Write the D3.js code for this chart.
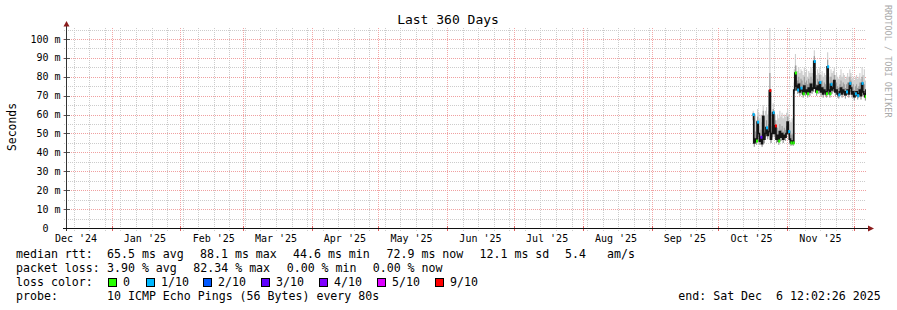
<!DOCTYPE html>
<html>
<head>
<meta charset="utf-8">
<script src="https://cdn.jsdelivr.net/npm/d3@7"></script>
<style>
	body { margin: 0; background: #fff; }
	svg { display: block; }
	text { font-family: "DejaVu Sans Mono", monospace; white-space: pre; fill: #000; }
</style>
</head>
<body>
<svg id="chart"></svg>
<script>
// time range of the graph (360 days ending at the "end:" stamp)
const END_TIME = Date.UTC(2025, 11, 6, 12, 2, 26);
const START_TIME = END_TIME - 360 * 864e5;
const SERIES_START = Date.UTC(2025, 9, 16, 12, 0, 0);
const STEP = 12 * 3600e3;

const monthLabels = ["Dec '24", "Jan '25", "Feb '25", "Mar '25", "Apr '25", "May '25",
	"Jun '25", "Jul '25", "Aug '25", "Sep '25", "Oct '25", "Nov '25"];
const yTicks = [0, 10, 20, 30, 40, 50, 60, 70, 80, 90, 100];
const yTickLabels = ["0\u00a0\u00a0", "10 m", "20 m", "30 m", "40 m", "50 m", "60 m", "70 m", "80 m", "90 m", "100 m"];

// median rtt per 12h step (ms)
const medianMs = [
	60, 45, 47, 46, 56, 50, 46, 48, 44.6, 59, 47, 50, 53, 49, 51, 72.7, 47, 50, 61, 50,
	54, 47, 49, 46, 51, 48, 50, 47, 49, 48, 50, 56, 51, 47, 45, 46, 45,
	73, 82, 75, 73, 76, 72, 74, 73, 71, 75, 72, 73, 71, 74, 72, 76, 73, 74, 88.1, 74,
	72, 75, 73, 77, 72, 74, 71, 73, 72, 71, 85.3, 73, 71, 76, 73, 74, 78, 72, 73, 71,
	70.4, 72, 74, 71, 73, 72, 70.5, 72, 73, 71, 76.5, 74, 71, 72, 69.5, 71, 72, 70, 71,
	73, 70, 76.5, 72, 71, 69.5, 72.9
];
// lowest ping of each step (ms)
const pingMinMs = [
	57, 43, 45, 44, 53, 48, 44, 46, 43, 56, 45, 48, 51, 47, 49, 70, 45, 48, 58, 48,
	52, 45, 47, 44, 49, 46, 48, 45, 47, 46, 48, 53, 49, 45, 43.5, 44, 43.5,
	71, 80, 73, 71, 74, 70, 72, 71, 69, 73, 70, 71, 69, 72, 70, 74, 71, 72, 85, 72,
	70, 73, 71, 75, 70, 72, 69, 71, 70, 69, 83, 71, 69, 74, 71, 72, 76, 70, 71, 69,
	68.5, 70, 72, 69, 71, 70, 68.5, 70, 71, 69, 74.5, 72, 69, 70, 67.5, 69, 70, 68, 69,
	71, 68, 74.5, 70, 69, 67.5, 71
];
// top of the dense part of the smoke (ms)
const smokeMidMs = [
	61, 48, 51, 49, 59, 54, 50, 52, 48, 62, 51, 54, 57, 53, 55, 82, 51, 54, 63, 54,
	57, 50, 53, 50, 55, 52, 54, 51, 53, 52, 54, 59, 55, 51, 49, 50, 49,
	77, 86, 80, 78, 80, 77, 79, 78, 76, 80, 77, 78, 76, 79, 77, 80, 77, 79, 91, 78,
	76, 79, 77, 81, 76, 78, 75, 77, 76, 75, 89, 77, 75, 80, 77, 78, 81, 76, 77, 75,
	74, 76, 78, 75, 77, 76, 74, 76, 77, 75, 80, 78, 75, 76, 73, 75, 76, 74, 75,
	77, 74, 80, 76, 76, 73, 76
];
// highest ping of each step (ms)
const pingMaxMs = [
	62, 58, 60, 57, 63, 61, 58, 60, 56, 65, 59, 62, 64, 60, 62, 106, 58, 61, 66, 61,
	60, 57, 60, 58, 62, 59, 61, 58, 60, 59, 61, 63, 60, 57, 56, 58, 57,
	84, 92, 86, 83, 85, 82, 84, 83, 81, 85, 82, 84, 80, 83, 82, 85, 82, 84, 94, 83,
	81, 84, 82, 85, 81, 83, 80, 82, 81, 80, 93, 82, 80, 84, 82, 83, 85, 81, 82, 80,
	79, 81, 84, 80, 82, 81, 79, 80, 82, 80, 84, 82, 79, 80, 78, 80, 81, 79, 80,
	82, 79, 85, 81, 84, 78, 80
];
// visible loss markers: [step index, loss level index]
const lossMarks = [
	[0, 1], [3, 0], [4, 1], [7, 3], [12, 1], [15, 6], [18, 1], [20, 6], [23, 0], [32, 1],
	[34, 0], [36, 0], [38, 0], [40, 1], [43, 1], [45, 0], [49, 0], [55, 1], [57, 0],
	[60, 1], [66, 0], [67, 1], [69, 0], [70, 1], [77, 1], [84, 1], [87, 1], [92, 1],
	[94, 1], [98, 1], [101, 0]
];

const lossLabels = ["0", "1/10", "2/10", "3/10", "4/10", "5/10", "9/10"];
const lossColors = ["#26ff00", "#00b8ff", "#0059ff", "#5e00ff", "#7e00ff", "#dd00ff", "#ff0000"];

const rttLegend = ["median rtt:", "65.5 ms avg", "88.1 ms max", "44.6 ms min", "72.9 ms now", "12.1 ms sd", "5.4", "am/s"];
const lossLegend = ["packet loss:", "3.90 % avg", "82.34 % max", "0.00 % min", "0.00 % now"];
const probeLegend = ["probe:", "10 ICMP Echo Pings (56 Bytes) every 80s"];
const endLegend = "end: Sat Dec  6 12:02:26 2025";

class SmokeGraph {
	constructor(svgId) {
		this.svg = d3.select(`#${svgId}`).attr("width", 897).attr("height", 310);
		this.left = 66;
		this.right = 866;
		this.top = 28;
		this.bottom = 228;
		this.x = d3.scaleUtc()
			.domain([new Date(START_TIME), new Date(END_TIME)])
			.range([this.left, this.right]);
		this.y = d3.scaleLinear().domain([0, 105.8]).range([this.bottom, this.top]);
	}

	render() {
		this.drawGrid();
		this.drawSmoke();
		this.drawAxes();
		this.drawTexts();
		this.drawLegend();
	}

	drawGrid() {
		const g = this.svg.append("g");
		const x = this.x, y = this.y;
		const start = new Date(START_TIME), end = new Date(END_TIME);

		const weeks = d3.utcSunday.range(start, end);
		const months = d3.utcMonth.range(start, end);
		const minorY = d3.range(5, 106, 10);

		g.selectAll(".vminor").data(weeks).enter().append("line")
			.attr("x1", (d) => Math.round(x(d)) + 0.5)
			.attr("x2", (d) => Math.round(x(d)) + 0.5)
			.attr("y1", this.top).attr("y2", this.bottom + 3)
			.style("stroke", "#cccccc").style("stroke-dasharray", "1,1");

		g.selectAll(".hminor").data(minorY).enter().append("line")
			.attr("x1", this.left - 2).attr("x2", this.right)
			.attr("y1", (d) => Math.round(y(d)) + 0.5)
			.attr("y2", (d) => Math.round(y(d)) + 0.5)
			.style("stroke", "#cccccc").style("stroke-dasharray", "1,1");

		g.selectAll(".vmajor").data(months).enter().append("line")
			.attr("x1", (d) => Math.round(x(d)) + 0.5)
			.attr("x2", (d) => Math.round(x(d)) + 0.5)
			.attr("y1", this.top).attr("y2", this.bottom + 3)
			.style("stroke", "#f2a6a6").style("stroke-dasharray", "1,1");

		g.selectAll(".hmajor").data(yTicks.slice(1)).enter().append("line")
			.attr("x1", this.left - 3).attr("x2", this.right)
			.attr("y1", (d) => Math.round(y(d)) + 0.5)
			.attr("y2", (d) => Math.round(y(d)) + 0.5)
			.style("stroke", "#f0a0a0").style("stroke-dasharray", "1,1");
	}

	drawSmoke() {
		const x = this.x, y = this.y;
		const pts = medianMs.map((m, i) => ({
			t: new Date(SERIES_START + i * STEP),
			med: m,
			lo: pingMinMs[i],
			mid: smokeMidMs[i],
			hi: pingMaxMs[i],
		}));
		// extra point so the last step gets its width
		const ext = pts.concat([{ ...pts[pts.length - 1], t: new Date(SERIES_START + pts.length * STEP) }]);

		this.svg.append("defs").append("clipPath").attr("id", "plot-clip")
			.append("rect")
			.attr("x", this.left).attr("y", this.top)
			.attr("width", this.right - this.left).attr("height", this.bottom - this.top);

		const g = this.svg.append("g").attr("clip-path", "url(#plot-clip)");

		const outer = d3.area().curve(d3.curveStepAfter)
			.x((d) => x(d.t)).y0((d) => y(d.lo)).y1((d) => y(d.hi));
		const inner = d3.area().curve(d3.curveStepAfter)
			.x((d) => x(d.t)).y0((d) => y(d.lo)).y1((d) => y(d.mid));

		g.append("path").attr("d", outer(ext)).style("fill", "#cfcfcf");
		g.append("path").attr("d", inner(ext)).style("fill", "#9c9c9c");

		const line = d3.line().curve(d3.curveStepAfter)
			.x((d) => x(d.t)).y((d) => y(d.med));
		g.append("path").attr("d", line(ext))
			.style("fill", "none")
			.style("stroke", "#141414")
			.style("stroke-width", "1.7px");

		g.selectAll(".loss").data(lossMarks).enter().append("rect")
			.attr("x", (d) => x(pts[d[0]].t))
			.attr("y", (d) => y(pts[d[0]].med) - 1.5)
			.attr("width", 2)
			.attr("height", 3)
			.style("fill", (d) => lossColors[d[1]]);
	}

	drawAxes() {
		const g = this.svg.append("g");
		const x = this.x, y = this.y;
		const start = new Date(START_TIME), end = new Date(END_TIME);

		// y ticks
		g.selectAll(".ytick").data(yTicks.slice(1)).enter().append("line")
			.attr("x1", 64).attr("x2", 70)
			.attr("y1", (d) => Math.round(y(d)) + 0.5).attr("y2", (d) => Math.round(y(d)) + 0.5)
			.style("stroke", "#555");

		// x ticks for months
		g.selectAll(".xtick").data(d3.utcMonth.range(start, end)).enter().append("line")
			.attr("x1", (d) => Math.round(x(d)) + 0.5).attr("x2", (d) => Math.round(x(d)) + 0.5)
			.attr("y1", this.bottom - 2).attr("y2", this.bottom + 3)
			.style("stroke", "#e06060");

		g.append("line")
			.attr("x1", 66.5).attr("x2", 66.5)
			.attr("y1", this.bottom + 3).attr("y2", 25)
			.style("stroke", "#333")
			.style("stroke-width", "1px");
		g.append("line")
			.attr("x1", 63).attr("x2", 869)
			.attr("y1", this.bottom + 0.5).attr("y2", this.bottom + 0.5)
			.style("stroke", "#111")
			.style("stroke-width", "1.2px");

		// arrows
		g.append("path").attr("d", "M66.5,21L63.5,26.5L69.5,26.5Z").style("fill", "#8b1c1c");
		g.append("path").attr("d", "M874,228.5L868,225.5L868,231.5Z").style("fill", "#8b1c1c");

		// y labels
		g.selectAll(".ylab").data(yTicks).enter().append("text")
			.attr("x", 60.5)
			.attr("y", (d) => y(d) + 3.6)
			.attr("text-anchor", "end")
			.style("font-size", "10px")
			.text((d, i) => yTickLabels[i]);

		// month labels, centred half a month after the month start
		const months = d3.utcMonth.range(d3.utcMonth.floor(start), end).slice(0, monthLabels.length);
		g.selectAll(".xlab").data(months).enter().append("text")
			.attr("x", (d) => x(d3.utcDay.offset(d, 15)))
			.attr("y", 241.5)
			.attr("text-anchor", "middle")
			.style("font-size", "10px")
			.text((d, i) => monthLabels[i]);
	}

	drawTexts() {
		this.svg.append("text")
			.attr("x", 448).attr("y", 24)
			.attr("text-anchor", "middle")
			.style("font-size", "13px")
			.text("Last 360 Days");

		this.svg.append("text")
			.attr("transform", "translate(15.5,127) rotate(-90)")
			.attr("text-anchor", "middle")
			.style("font-size", "11.4px")
			.text("Seconds");

		this.svg.append("text")
			.attr("transform", "translate(884.5,5) rotate(90)")
			.style("font-size", "8.5px")
			.style("fill", "#aaaaaa")
			.text("RRDTOOL / TOBI OETIKER");
	}

	drawLegend() {
		const g = this.svg.append("g").style("font-size", "11.6px");
		const put = (x, yy, s) => g.append("text").attr("x", x).attr("y", yy).text(s);

		const rttX = [16, 107, 200, 293, 386.5, 479.5, 565, 607];
		rttLegend.forEach((s, i) => put(rttX[i], 258, s));

		const lossX = [16, 107, 193.3, 286.7, 372.7];
		lossLegend.forEach((s, i) => put(lossX[i], 272, s));

		put(16, 286, "loss color:");
		const boxX = [108, 146, 203, 261, 319, 377, 435];
		lossLabels.forEach((s, i) => {
			g.append("rect")
				.attr("x", boxX[i] + 0.5).attr("y", 278.5)
				.attr("width", 8).attr("height", 8)
				.style("fill", lossColors[i])
				.style("stroke", "#000")
				.style("stroke-width", "1px");
			put(boxX[i] + 15, 286, s);
		});

		put(16, 300, probeLegend[0]);
		put(107, 300, probeLegend[1]);
		put(678.3, 300, endLegend);
	}
}

new SmokeGraph("chart").render();
</script>
</body>
</html>
